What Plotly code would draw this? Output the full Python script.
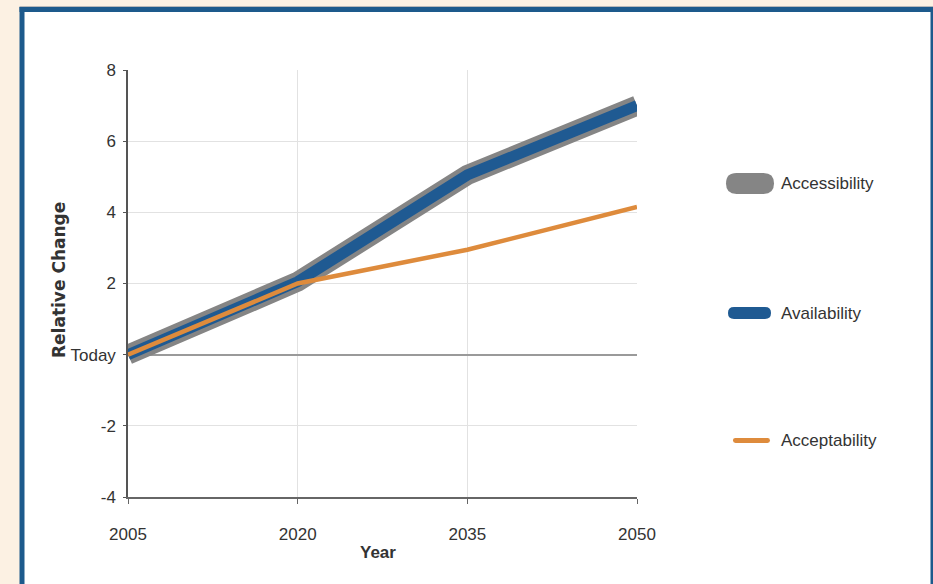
import plotly.graph_objects as go

# ---- data ----
years = [2005, 2020, 2035, 2050]
accessibility = [0.0, 2.05, 5.05, 7.0]
availability = [0.0, 2.05, 5.05, 7.0]
acceptability = [0.0, 2.0, 2.95, 4.15]
x_ticks = [2005, 2020, 2035, 2050]
y_ticks = [-4, -2, 0, 2, 4, 6, 8]
y_ticktext = ["-4", "-2", "Today", "2", "4", "6", "8"]
series_names = ["Accessibility", "Availability", "Acceptability"]

# ---- styles ----
W, H = 933, 584
GREY = "#858585"
BLUE = "#1f5a92"
ORANGE = "#de8b3c"
FRAME = "#1d5a8c"
FONT = "Liberation Sans Narrow, Arial Narrow, Liberation Sans, Arial, sans-serif"
TXT = "#333333"


def px(x):
    return x / W


def py(y):
    return 1 - y / H


fig = go.Figure()
fig.add_trace(go.Scatter(x=years, y=accessibility, mode="lines", name=series_names[0],
                         line=dict(color=GREY, width=20), showlegend=False))
fig.add_trace(go.Scatter(x=years, y=availability, mode="lines", name=series_names[1],
                         line=dict(color=BLUE, width=11), showlegend=False))
fig.add_trace(go.Scatter(x=years, y=acceptability, mode="lines", name=series_names[2],
                         line=dict(color=ORANGE, width=4.5), showlegend=False))


def rrect(x0, y0, x1, y1, r):
    pts = [
        f"M {px(x0+r)},{py(y0)}",
        f"L {px(x1-r)},{py(y0)}",
        f"Q {px(x1)},{py(y0)} {px(x1)},{py(y0+r)}",
        f"L {px(x1)},{py(y1-r)}",
        f"Q {px(x1)},{py(y1)} {px(x1-r)},{py(y1)}",
        f"L {px(x0+r)},{py(y1)}",
        f"Q {px(x0)},{py(y1)} {px(x0)},{py(y1-r)}",
        f"L {px(x0)},{py(y0+r)}",
        f"Q {px(x0)},{py(y0)} {px(x0+r)},{py(y0)}",
        "Z",
    ]
    return " ".join(pts)


shapes = [
    # white panel
    dict(type="rect", xref="paper", yref="paper", x0=px(22), x1=px(932), y0=0, y1=py(9.5),
         fillcolor="white", line=dict(width=0), layer="below"),
    # blue frame: left, top, right
    dict(type="line", xref="paper", yref="paper", x0=px(22), x1=px(22), y0=0, y1=py(7),
         line=dict(color=FRAME, width=5), layer="below"),
    dict(type="line", xref="paper", yref="paper", x0=px(19.5), x1=px(933), y0=py(9.5), y1=py(9.5),
         line=dict(color=FRAME, width=5), layer="below"),
    dict(type="line", xref="paper", yref="paper", x0=px(932), x1=px(932), y0=0, y1=py(7),
         line=dict(color=FRAME, width=3), layer="below"),
    dict(type="line", xref="paper", yref="paper", x0=px(19.5), x1=px(933), y0=py(6.5), y1=py(6.5),
         line=dict(color="#b9b9b9", width=1), layer="below"),
]

legend_items = [
    (series_names[0], GREY, 726, 774, 183.5, 21),
    (series_names[1], BLUE, 728, 771, 313, 12),
    (series_names[2], ORANGE, 733, 770, 440.5, 5),
]
annotations = []
for name, col, x0, x1, yc, th in legend_items:
    shapes.append(dict(type="path", xref="paper", yref="paper",
                       path=rrect(x0, yc - th / 2, x1, yc + th / 2, th / 2 - 0.01),
                       fillcolor=col, line=dict(width=0)))
    annotations.append(dict(text=name, x=px(779), y=py(yc), xref="paper", yref="paper",
                            xanchor="left", yanchor="middle", showarrow=False,
                            font=dict(family=FONT, size=17, color=TXT)))

annotations.append(dict(text="<b>Year</b>", x=px(378), y=py(552), xref="paper", yref="paper",
                        xanchor="center", yanchor="middle", showarrow=False,
                        font=dict(family=FONT, size=17, color=TXT)))
annotations.append(dict(text="<b>Relative Change</b>", x=px(59), y=py(280), xref="paper", yref="paper",
                        xanchor="center", yanchor="middle", showarrow=False, textangle=-90,
                        font=dict(family="DejaVu Sans, sans-serif", size=17, color=TXT)))

fig.update_layout(
    width=W, height=H,
    margin=dict(l=0, r=0, t=0, b=0, pad=0, autoexpand=False),
    paper_bgcolor="#fcf1e3",
    plot_bgcolor="rgba(0,0,0,0)",
    showlegend=False,
    shapes=shapes,
    annotations=annotations,
    xaxis=dict(domain=[px(128), px(637)], range=[2005, 2050], tickvals=x_ticks,
               showgrid=True, gridcolor="#e2e2e2", gridwidth=1,
               showline=True, linecolor="#666666", linewidth=2,
               ticks="outside", ticklen=5, tickcolor="#666666", ticklabelstandoff=16,
               tickfont=dict(family=FONT, size=17, color=TXT), zeroline=False),
    yaxis=dict(domain=[py(497), py(70)], range=[-4, 8], tickvals=y_ticks, ticktext=y_ticktext,
               showgrid=True, gridcolor="#e2e2e2", gridwidth=1,
               showline=True, linecolor="#555555", linewidth=1.5,
               ticks="outside", ticklen=3, tickcolor="#555555", ticklabelstandoff=4,
               tickfont=dict(family=FONT, size=17, color=TXT),
               zeroline=True, zerolinecolor="#9a9a9a", zerolinewidth=1.5),
)

fig.write_html("out.html")
